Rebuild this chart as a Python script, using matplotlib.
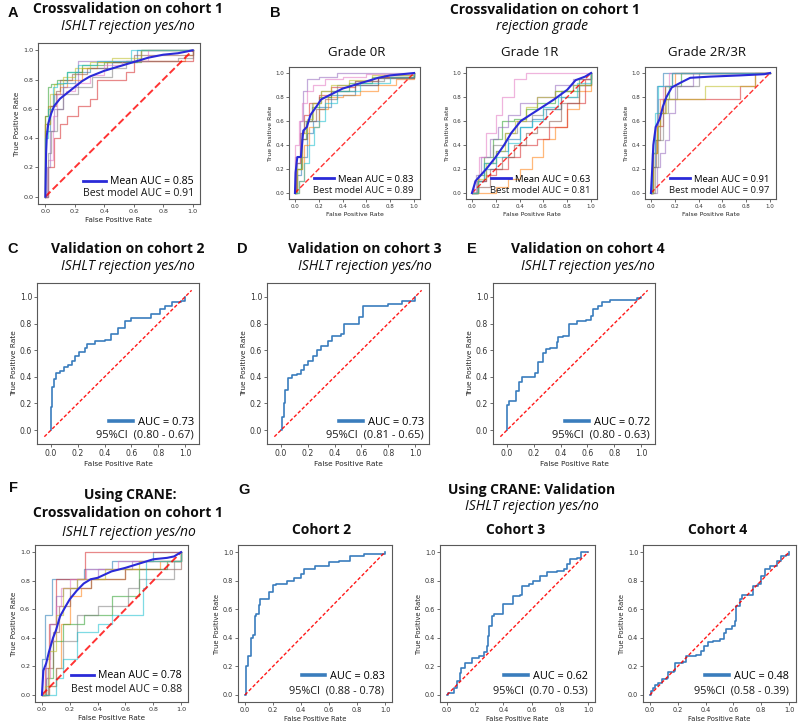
"""Multi-panel ROC figure (cross-validation and validation cohorts)."""

import matplotlib

matplotlib.use("Agg")

import matplotlib.pyplot as plt
from matplotlib.lines import Line2D

W, H = 800, 724
TITLE_FONT = ["Open Sans", "DejaVu Sans"]
LETTER_FONT = ["Liberation Sans", "DejaVu Sans"]
VAL_BLUE = "#3a7dbd"
MEAN_BLUE = "#2a2ad8"

# ---------------------------------------------------------------- data
# Panel A: cross-validation folds, ISHLT rejection yes/no
a_fold_fpr = [
    [0, 0, 0.03, 0.06, 0.12, 0.2, 0.3, 0.45, 0.62, 1.0],
    [0, 0, 0.02, 0.05, 0.1, 0.15, 0.25, 0.35, 0.55, 0.95, 1.0],
    [0, 0, 0.02, 0.04, 0.08, 0.15, 0.25, 0.4, 0.65, 1.0],
    [0, 0.02, 0.06, 0.1, 0.15, 0.22, 0.3, 0.35, 0.55, 0.6, 0.97, 1.0],
    [0, 0.01, 0.03, 0.06, 0.12, 0.22, 0.3, 0.5, 0.65, 1.0],
    [0, 0, 0.03, 0.07, 0.1, 0.18, 0.28, 0.42, 0.6, 1.0],
    [0, 0.02, 0.05, 0.08, 0.14, 0.2, 0.3, 0.4, 0.52, 0.7, 1.0],
    [0, 0.02, 0.04, 0.08, 0.12, 0.22, 0.32, 0.45, 0.55, 0.9, 1.0],
    [0, 0, 0.03, 0.06, 0.12, 0.2, 0.3, 0.45, 0.65, 1.0],
    [0, 0, 0.02, 0.05, 0.08, 0.15, 0.22, 0.35, 0.58, 1.0],
]
a_fold_tpr = [
    [0, 0.45, 0.62, 0.7, 0.78, 0.85, 0.88, 0.92, 1.0, 1.0],
    [0, 0.55, 0.62, 0.7, 0.75, 0.8, 0.88, 0.92, 0.93, 0.97, 1.0],
    [0, 0.55, 0.75, 0.77, 0.8, 0.85, 0.9, 0.92, 1.0, 1.0],
    [0, 0.2, 0.4, 0.5, 0.55, 0.62, 0.67, 0.8, 0.85, 0.93, 0.93, 1.0],
    [0, 0.2, 0.45, 0.6, 0.75, 0.93, 0.93, 0.93, 1.0, 1.0],
    [0, 0.5, 0.62, 0.72, 0.8, 0.84, 0.88, 0.92, 0.97, 1.0],
    [0, 0.25, 0.55, 0.7, 0.72, 0.78, 0.83, 0.9, 0.93, 1.0, 1.0],
    [0, 0.3, 0.45, 0.6, 0.7, 0.75, 0.82, 0.88, 0.93, 0.95, 1.0],
    [0, 0.5, 0.7, 0.77, 0.82, 0.88, 0.92, 0.95, 1.0, 1.0],
    [0, 0.4, 0.6, 0.75, 0.78, 0.85, 0.9, 0.93, 1.0, 1.0],
]
a_mean_fpr = [0, 0.005, 0.01, 0.02, 0.04, 0.06, 0.1, 0.15, 0.2, 0.25, 0.3, 0.4, 0.5, 0.6, 0.7, 0.8, 0.9, 1.0]
a_mean_tpr = [0, 0.3, 0.42, 0.5, 0.57, 0.62, 0.67, 0.71, 0.75, 0.79, 0.82, 0.86, 0.89, 0.92, 0.95, 0.97, 0.98, 1.0]

# Panel B: rejection grade 0R
b0_fold_fpr = [
    [0, 0.02, 0.05, 0.1, 0.15, 0.2, 0.3, 0.5, 0.7, 1.0],
    [0, 0.03, 0.08, 0.12, 0.2, 0.28, 0.4, 0.55, 0.7, 0.85, 1.0],
    [0, 0.01, 0.05, 0.09, 0.14, 0.2, 0.3, 0.45, 0.65, 1.0],
    [0, 0.01, 0.04, 0.08, 0.12, 0.2, 0.3, 0.5, 0.7, 1.0],
    [0, 0, 0.04, 0.07, 0.1, 0.2, 0.35, 1.0],
    [0, 0.02, 0.06, 0.1, 0.18, 0.25, 0.35, 0.5, 0.7, 1.0],
    [0, 0, 0.03, 0.06, 0.1, 0.15, 0.25, 0.4, 0.6, 1.0],
    [0, 0.02, 0.05, 0.08, 0.14, 0.22, 0.35, 0.5, 0.75, 1.0],
    [0, 0.02, 0.06, 0.1, 0.15, 0.22, 0.3, 0.45, 0.65, 1.0],
    [0, 0.03, 0.08, 0.12, 0.16, 0.2, 0.25, 0.35, 0.55, 0.8, 1.0],
]
b0_fold_tpr = [
    [0, 0.15, 0.3, 0.5, 0.6, 0.72, 0.82, 0.9, 0.96, 1.0],
    [0, 0.1, 0.4, 0.55, 0.7, 0.8, 0.82, 0.85, 0.9, 0.95, 1.0],
    [0, 0.2, 0.45, 0.6, 0.72, 0.8, 0.85, 0.92, 0.97, 1.0],
    [0, 0.25, 0.5, 0.65, 0.75, 0.82, 0.88, 0.93, 0.97, 1.0],
    [0, 0.3, 0.6, 0.85, 0.95, 0.97, 1.0, 1.0],
    [0, 0.2, 0.45, 0.6, 0.7, 0.78, 0.85, 0.9, 0.96, 1.0],
    [0, 0.4, 0.6, 0.75, 0.85, 0.9, 0.95, 0.97, 0.99, 1.0],
    [0, 0.25, 0.5, 0.6, 0.75, 0.85, 0.9, 0.93, 0.98, 1.0],
    [0, 0.2, 0.5, 0.62, 0.75, 0.85, 0.9, 0.94, 0.98, 1.0],
    [0, 0.1, 0.25, 0.4, 0.55, 0.6, 0.75, 0.85, 0.92, 0.97, 1.0],
]
b0_mean_fpr = [0, 0.005, 0.02, 0.05, 0.07, 0.1, 0.13, 0.18, 0.22, 0.3, 0.4, 0.5, 0.6, 0.7, 0.8, 0.9, 1.0]
b0_mean_tpr = [0, 0.17, 0.3, 0.3, 0.52, 0.55, 0.65, 0.72, 0.78, 0.82, 0.87, 0.9, 0.93, 0.96, 0.98, 0.99, 1.0]

# Panel B: rejection grade 1R
b1_fold_fpr = [
    [0, 0.05, 0.12, 0.2, 0.3, 0.4, 0.5, 0.62, 0.75, 0.85, 1.0],
    [0, 0.1, 0.2, 0.3, 0.4, 0.5, 0.6, 0.7, 0.8, 0.9, 1.0],
    [0, 0.05, 0.1, 0.18, 0.25, 0.35, 0.45, 0.55, 0.7, 0.9, 1.0],
    [0, 0.05, 0.12, 0.2, 0.3, 0.4, 0.55, 0.65, 0.8, 0.95, 1.0],
    [0, 0.03, 0.08, 0.15, 0.22, 0.3, 0.4, 0.55, 0.7, 0.85, 1.0],
    [0, 0.05, 0.15, 0.25, 0.35, 0.45, 0.55, 0.65, 0.75, 0.9, 1.0],
    [0, 0.02, 0.06, 0.12, 0.2, 0.25, 0.35, 0.45, 1.0],
    [0, 0.04, 0.1, 0.18, 0.28, 0.38, 0.5, 0.6, 0.75, 0.9, 1.0],
    [0, 0.05, 0.12, 0.2, 0.28, 0.36, 0.45, 0.55, 0.7, 0.85, 1.0],
    [0, 0.05, 0.1, 0.2, 0.3, 0.4, 0.5, 0.6, 0.72, 0.88, 1.0],
]
b1_fold_tpr = [
    [0, 0.1, 0.2, 0.35, 0.45, 0.55, 0.62, 0.7, 0.85, 0.9, 1.0],
    [0, 0.0, 0.05, 0.12, 0.2, 0.3, 0.45, 0.55, 0.7, 0.85, 1.0],
    [0, 0.15, 0.3, 0.45, 0.6, 0.62, 0.7, 0.75, 0.85, 0.95, 1.0],
    [0, 0.1, 0.15, 0.2, 0.3, 0.4, 0.45, 0.55, 0.75, 0.95, 1.0],
    [0, 0.15, 0.3, 0.45, 0.55, 0.65, 0.75, 0.8, 0.9, 0.95, 1.0],
    [0, 0.05, 0.2, 0.3, 0.4, 0.5, 0.55, 0.6, 0.75, 0.9, 1.0],
    [0, 0.1, 0.3, 0.5, 0.65, 0.8, 0.95, 1.0, 1.0],
    [0, 0.1, 0.25, 0.4, 0.5, 0.6, 0.65, 0.7, 0.8, 0.9, 1.0],
    [0, 0.12, 0.25, 0.35, 0.5, 0.6, 0.72, 0.8, 0.85, 0.9, 1.0],
    [0, 0.1, 0.25, 0.3, 0.42, 0.55, 0.6, 0.72, 0.8, 0.92, 1.0],
]
b1_mean_fpr = [0, 0.03, 0.12, 0.2, 0.27, 0.33, 0.41, 0.55, 0.69, 0.8, 0.87, 0.95, 1.0]
b1_mean_tpr = [0, 0.1, 0.2, 0.3, 0.4, 0.5, 0.6, 0.69, 0.78, 0.86, 0.94, 0.97, 1.0]

# Panel B: rejection grade 2R/3R
b2_fold_fpr = [
    [0, 0.01, 0.03, 0.05, 0.1, 1.0],
    [0, 0.02, 0.05, 0.08, 0.12, 0.2, 1.0],
    [0, 0.02, 0.06, 0.1, 0.15, 0.25, 1.0],
    [0, 0.02, 0.05, 0.1, 0.75, 0.87, 1.0],
    [0, 0.05, 0.08, 0.12, 0.15, 0.2, 0.35, 1.0],
    [0, 0.02, 0.04, 0.08, 0.12, 0.18, 1.0],
    [0, 0.01, 0.03, 0.06, 0.1, 0.15, 1.0],
    [0, 0.03, 0.06, 0.1, 0.14, 0.22, 0.4, 1.0],
    [0, 0.02, 0.05, 0.08, 0.13, 0.45, 0.87, 1.0],
    [0, 0.01, 0.03, 0.06, 0.09, 0.18, 1.0],
]
b2_fold_tpr = [
    [0, 0.22, 0.56, 0.89, 1.0, 1.0],
    [0, 0.33, 0.56, 0.78, 0.89, 1.0, 1.0],
    [0, 0.44, 0.67, 0.78, 0.89, 1.0, 1.0],
    [0, 0.33, 0.56, 0.78, 0.89, 1.0, 1.0],
    [0, 0.22, 0.33, 0.44, 0.67, 0.89, 1.0, 1.0],
    [0, 0.22, 0.44, 0.67, 0.89, 1.0, 1.0],
    [0, 0.33, 0.56, 0.78, 0.89, 1.0, 1.0],
    [0, 0.22, 0.44, 0.67, 0.78, 0.89, 1.0, 1.0],
    [0, 0.33, 0.56, 0.67, 0.78, 0.89, 1.0, 1.0],
    [0, 0.33, 0.67, 0.89, 0.89, 1.0, 1.0],
]
b2_mean_fpr = [0, 0.01, 0.02, 0.04, 0.075, 0.1, 0.13, 0.175, 0.25, 0.33, 0.5, 0.75, 0.95, 1.0]
b2_mean_tpr = [0, 0.19, 0.4, 0.55, 0.62, 0.72, 0.8, 0.88, 0.92, 0.96, 0.97, 0.98, 0.99, 1.0]

# Panels C-E: external validation cohorts 2-4
c_fpr = [0, 0, 0.005, 0.01, 0.02, 0.04, 0.07, 0.1, 0.13, 0.16, 0.18, 0.21, 0.25, 0.27,
         0.33, 0.4, 0.45, 0.5, 0.55, 0.6, 0.7, 0.75, 0.81, 0.85, 0.9, 0.97, 1.0]
c_tpr = [0, 0.17, 0.25, 0.32, 0.38, 0.43, 0.44, 0.47, 0.49, 0.52, 0.56, 0.59, 0.62, 0.65,
         0.67, 0.68, 0.72, 0.77, 0.82, 0.84, 0.84, 0.87, 0.91, 0.93, 0.965, 0.97, 1.0]
d_fpr = [0, 0.01, 0.02, 0.03, 0.05, 0.08, 0.12, 0.15, 0.17, 0.2, 0.24, 0.27, 0.3, 0.35,
         0.38, 0.45, 0.47, 0.55, 0.58, 0.61, 0.75, 0.8, 0.9, 1.0]
d_tpr = [0, 0.1, 0.2, 0.3, 0.39, 0.41, 0.42, 0.45, 0.49, 0.52, 0.56, 0.6, 0.63, 0.67,
         0.71, 0.72, 0.8, 0.8, 0.85, 0.93, 0.93, 0.95, 0.97, 1.0]
e_fpr = [0, 0, 0.017, 0.07, 0.09, 0.11, 0.21, 0.23, 0.27, 0.29, 0.32, 0.37, 0.38, 0.42,
         0.46, 0.52, 0.59, 0.63, 0.64, 0.68, 0.71, 0.77, 0.94, 0.97, 1.0]
e_tpr = [0, 0.19, 0.22, 0.29, 0.36, 0.4, 0.43, 0.51, 0.58, 0.61, 0.62, 0.66, 0.7, 0.71,
         0.8, 0.82, 0.83, 0.86, 0.91, 0.93, 0.96, 0.975, 0.975, 0.99, 1.0]

# Panel F: CRANE cross-validation folds
f_fold_fpr = [
    [0, 0, 0.02, 0.07, 0.15, 0.3, 0.5, 0.8, 1.0],
    [0, 0.05, 0.1, 0.14, 0.2, 0.28, 0.35, 0.6, 0.85, 1.0],
    [0, 0.03, 0.08, 0.15, 0.3, 0.5, 0.7, 0.9, 1.0],
    [0, 0.02, 0.05, 0.1, 0.15, 0.31, 1.0],
    [0, 0.03, 0.06, 0.1, 0.15, 0.25, 0.4, 0.65, 1.0],
    [0, 0.04, 0.08, 0.12, 0.2, 0.35, 0.6, 1.0],
    [0, 0.02, 0.06, 0.1, 0.14, 0.2, 0.32, 0.55, 1.0],
    [0, 0.05, 0.1, 0.15, 0.25, 0.4, 0.62, 0.7, 0.95, 1.0],
    [0, 0.02, 0.05, 0.1, 0.15, 0.25, 0.45, 0.7, 1.0],
    [0, 0.05, 0.1, 0.15, 0.25, 0.4, 0.5, 0.73, 0.75, 1.0],
]
f_fold_tpr = [
    [0, 0.25, 0.56, 0.81, 0.81, 0.88, 0.94, 1.0, 1.0],
    [0, 0.06, 0.19, 0.5, 0.69, 0.75, 0.81, 0.88, 0.94, 1.0],
    [0, 0.12, 0.38, 0.5, 0.56, 0.69, 0.88, 0.94, 1.0],
    [0, 0.19, 0.5, 0.81, 0.81, 1.0, 1.0],
    [0, 0.25, 0.5, 0.69, 0.75, 0.81, 0.88, 0.94, 1.0],
    [0, 0.19, 0.44, 0.62, 0.75, 0.81, 0.88, 1.0],
    [0, 0.12, 0.38, 0.62, 0.75, 0.81, 0.88, 0.94, 1.0],
    [0, 0.06, 0.19, 0.38, 0.56, 0.62, 0.75, 0.81, 0.94, 1.0],
    [0, 0.06, 0.31, 0.56, 0.75, 0.81, 0.88, 0.94, 1.0],
    [0, 0.0, 0.12, 0.25, 0.44, 0.5, 0.56, 0.75, 0.94, 1.0],
]
f_mean_fpr = [0, 0.01, 0.03, 0.05, 0.08, 0.1, 0.13, 0.17, 0.2, 0.25, 0.3, 0.35, 0.4, 0.5,
              0.6, 0.7, 0.8, 0.9, 0.95, 1.0]
f_mean_tpr = [0, 0.17, 0.22, 0.3, 0.4, 0.45, 0.55, 0.62, 0.67, 0.73, 0.78, 0.81, 0.82, 0.865,
              0.89, 0.92, 0.95, 0.96, 0.97, 1.0]

# Panel G: CRANE validation cohorts 2-4
g2_fpr = [0, 0.005, 0.01, 0.02, 0.04, 0.06, 0.07, 0.08, 0.1, 0.11, 0.16, 0.17, 0.2, 0.22,
          0.3, 0.35, 0.4, 0.42, 0.5, 0.6, 0.67, 0.75, 0.85, 1.0]
g2_tpr = [0, 0.17, 0.2, 0.27, 0.4, 0.42, 0.55, 0.57, 0.63, 0.675, 0.675, 0.72, 0.77, 0.78,
          0.8, 0.82, 0.85, 0.88, 0.9, 0.93, 0.94, 0.97, 0.99, 1.0]
g3_fpr = [0, 0.01, 0.047, 0.07, 0.09, 0.1, 0.13, 0.17, 0.18, 0.23, 0.26, 0.28, 0.29, 0.3,
          0.32, 0.33, 0.37, 0.4, 0.46, 0.47, 0.52, 0.53, 0.58, 0.61, 0.66, 0.71, 0.78, 0.83,
          0.85, 0.87, 0.92, 0.95, 1.0]
g3_tpr = [0, 0.01, 0.05, 0.1, 0.15, 0.19, 0.22, 0.22, 0.26, 0.27, 0.3, 0.34, 0.41, 0.48,
          0.55, 0.57, 0.57, 0.64, 0.64, 0.69, 0.7, 0.76, 0.78, 0.8, 0.83, 0.86, 0.87, 0.88,
          0.92, 0.95, 0.96, 1.0, 1.0]
g4_fpr = [0, 0.005, 0.02, 0.035, 0.06, 0.084, 0.12, 0.13, 0.17, 0.18, 0.24, 0.26, 0.33, 0.37,
          0.39, 0.42, 0.45, 0.5, 0.53, 0.55, 0.59, 0.61, 0.62, 0.65, 0.66, 0.72, 0.74, 0.78,
          0.8, 0.83, 0.86, 0.91, 0.945, 0.98, 1.0]
g4_tpr = [0, 0.03, 0.05, 0.066, 0.08, 0.11, 0.12, 0.16, 0.17, 0.22, 0.23, 0.27, 0.28, 0.31,
          0.34, 0.37, 0.38, 0.39, 0.43, 0.46, 0.48, 0.52, 0.62, 0.67, 0.7, 0.7, 0.76, 0.78,
          0.83, 0.88, 0.9, 0.94, 0.97, 0.98, 1.0]


# ---------------------------------------------------------------- helpers
def px_axes(fig, left, right, top, bottom):
    return fig.add_axes([left / W, 1 - bottom / H, (right - left) / W, (bottom - top) / H])


def px_text(fig, x, y, s, **kw):
    kw.setdefault("ha", "center")
    kw.setdefault("va", "center")
    fig.text(x / W, 1 - y / H, s, **kw)


def style_axes(ax, tick_fs, label_fs, wide=False):
    lim = (-0.105, 1.105) if wide else (-0.05, 1.05)
    ax.set_xlim(lim)
    ax.set_ylim(lim)
    ticks = [0, 0.2, 0.4, 0.6, 0.8, 1.0]
    ax.set_xticks(ticks)
    ax.set_yticks(ticks)
    ax.tick_params(labelsize=tick_fs, length=2, width=0.5, pad=1.5, colors="0.2")
    for sp in ax.spines.values():
        sp.set_color("0.35")
        sp.set_linewidth(0.8)
    ax.set_xlabel("False Positive Rate", fontsize=label_fs, labelpad=2, color="0.15")
    ax.set_ylabel("True Positive Rate", fontsize=label_fs, labelpad=2, color="0.15")


def auc_legend(ax, handle, line1, line2, fs, y1, y2, right):
    ax.legend(handles=[handle], labels=[line1], loc="center right", bbox_to_anchor=(right, y1),
              frameon=False, borderpad=0, borderaxespad=0, handlelength=2.2, handletextpad=0.4,
              prop={"family": TITLE_FONT, "size": fs})
    ax.text(right, y2, line2, transform=ax.transAxes, ha="right", va="center",
            fontsize=fs, family=TITLE_FONT, color="0.1")


def cv_panel(ax, folds_fpr, folds_tpr, mean_fpr, mean_tpr, labels, fs, y1, y2, right,
             tick_fs=4.6, label_fs=5.2, diag_lw=1.4):
    colors = plt.rcParams["axes.prop_cycle"].by_key()["color"]
    for i, (fx, fy) in enumerate(zip(folds_fpr, folds_tpr)):
        ax.step(fx, fy, where="post", color=colors[i % 10], lw=0.9, alpha=0.55)
    ax.plot([0, 1], [0, 1], ls="--", color="r", lw=diag_lw, alpha=0.8)
    ax.plot(mean_fpr, mean_tpr, color=MEAN_BLUE, lw=1.5)
    style_axes(ax, tick_fs, label_fs)
    handle = Line2D([], [], color=MEAN_BLUE, lw=2.0)
    auc_legend(ax, handle, labels[0], labels[1], fs, y1, y2, right)


def val_panel(ax, fpr, tpr, labels, fs, y1, y2, right, wide, tick_fs, label_fs):
    ax.step(fpr, tpr, where="post", color=VAL_BLUE, lw=1.2)
    diag = [-0.05, 1.05] if wide else [0, 1]
    ax.plot(diag, diag, ls=(0, (2.5, 1.5)), color="r", lw=1.0, alpha=0.9)
    style_axes(ax, tick_fs, label_fs, wide=wide)
    handle = Line2D([], [], color=VAL_BLUE, lw=2.6)
    auc_legend(ax, handle, labels[0], labels[1], fs, y1, y2, right)


# ---------------------------------------------------------------- figure
fig = plt.figure(figsize=(W / 100, H / 100), dpi=100)

bold = dict(family=TITLE_FONT, fontsize=10, fontweight="bold", color="0.05")
ital = dict(family=TITLE_FONT, fontsize=10, style="italic", color="0.05")
letter = dict(family=LETTER_FONT, fontsize=10.5, fontweight="bold", color="0.05")

# A
px_text(fig, 13, 13, "A", **letter)
px_text(fig, 128, 9, "Crossvalidation on cohort 1", **bold)
px_text(fig, 128, 27, "ISHLT rejection yes/no", **ital)
ax = px_axes(fig, 38, 200, 43, 204)
cv_panel(ax, a_fold_fpr, a_fold_tpr, a_mean_fpr, a_mean_tpr,
         ["Mean AUC = 0.85", "Best model AUC = 0.91"], 7.6, 0.137, 0.068, 0.963)

# B
px_text(fig, 275, 13, "B", **letter)
px_text(fig, 545, 10, "Crossvalidation on cohort 1", **bold)
px_text(fig, 542, 27, "rejection grade", **ital)
grade_boxes = [(289, 420), (466, 597), (645, 776)]
grade_titles = ["Grade 0R", "Grade 1R", "Grade 2R/3R"]
grade_title_x = [357, 530, 707]
grade_data = [
    (b0_fold_fpr, b0_fold_tpr, b0_mean_fpr, b0_mean_tpr, ["Mean AUC = 0.83", "Best model AUC = 0.89"]),
    (b1_fold_fpr, b1_fold_tpr, b1_mean_fpr, b1_mean_tpr, ["Mean AUC = 0.63", "Best model AUC = 0.81"]),
    (b2_fold_fpr, b2_fold_tpr, b2_mean_fpr, b2_mean_tpr, ["Mean AUC = 0.91", "Best model AUC = 0.97"]),
]
for (l, r), title, tx, (ffx, ffy, mx, my, labs) in zip(grade_boxes, grade_titles, grade_title_x, grade_data):
    px_text(fig, tx, 52, title, family=TITLE_FONT, fontsize=9.5, color="0.05")
    ax = px_axes(fig, l, r, 67, 199)
    cv_panel(ax, ffx, ffy, mx, my, labs, 6.8, 0.15, 0.068, 0.95,
             tick_fs=4.0, label_fs=4.4, diag_lw=1.0)

# C, D, E
val_specs = [
    ("C", 13, 128, (37, 199), c_fpr, c_tpr, "Validation on cohort 2", ["AUC = 0.73", "95%CI  (0.80 - 0.67)"]),
    ("D", 242, 365, (267, 429), d_fpr, d_tpr, "Validation on cohort 3", ["AUC = 0.73", "95%CI  (0.81 - 0.65)"]),
    ("E", 472, 588, (493, 655), e_fpr, e_tpr, "Validation on cohort 4", ["AUC = 0.72", "95%CI  (0.80 - 0.63)"]),
]
for let, lx, tx, (l, r), fx, fy, title, labs in val_specs:
    px_text(fig, lx, 249, let, **letter)
    px_text(fig, tx, 249, title, **bold)
    px_text(fig, tx, 267, "ISHLT rejection yes/no", **ital)
    ax = px_axes(fig, l, r, 283, 444)
    val_panel(ax, fx, fy, labs, 8, 0.133, 0.056, 0.97, True, 5.6, 5.3)

# F
px_text(fig, 13, 488, "F", **letter)
px_text(fig, 130, 495, "Using CRANE:", **bold)
px_text(fig, 128, 513, "Crossvalidation on cohort 1", **bold)
px_text(fig, 129, 532, "ISHLT rejection yes/no", **ital)
ax = px_axes(fig, 35, 188, 545, 702)
cv_panel(ax, f_fold_fpr, f_fold_tpr, f_mean_fpr, f_mean_tpr,
         ["Mean AUC = 0.78", "Best model AUC = 0.88"], 7.6, 0.167, 0.077, 0.959)

# G
px_text(fig, 244, 490, "G", **letter)
px_text(fig, 532, 490, "Using CRANE: Validation", **bold)
px_text(fig, 532, 507, "ISHLT rejection yes/no", **ital)
g_specs = [
    ("Cohort 2", 322, (238, 392), g2_fpr, g2_tpr, ["AUC = 0.83", "95%CI  (0.88 - 0.78)"]),
    ("Cohort 3", 516, (440, 595), g3_fpr, g3_tpr, ["AUC = 0.62", "95%CI  (0.70 - 0.53)"]),
    ("Cohort 4", 718, (643, 796), g4_fpr, g4_tpr, ["AUC = 0.48", "95%CI  (0.58 - 0.39)"]),
]
for title, tx, (l, r), fx, fy, labs in g_specs:
    px_text(fig, tx, 530, title, **bold)
    ax = px_axes(fig, l, r, 545, 702)
    val_panel(ax, fx, fy, labs, 7.8, 0.161, 0.072, 0.952, False, 4.7, 4.9)

fig.savefig("out.png", dpi=100)
plt.close(fig)
